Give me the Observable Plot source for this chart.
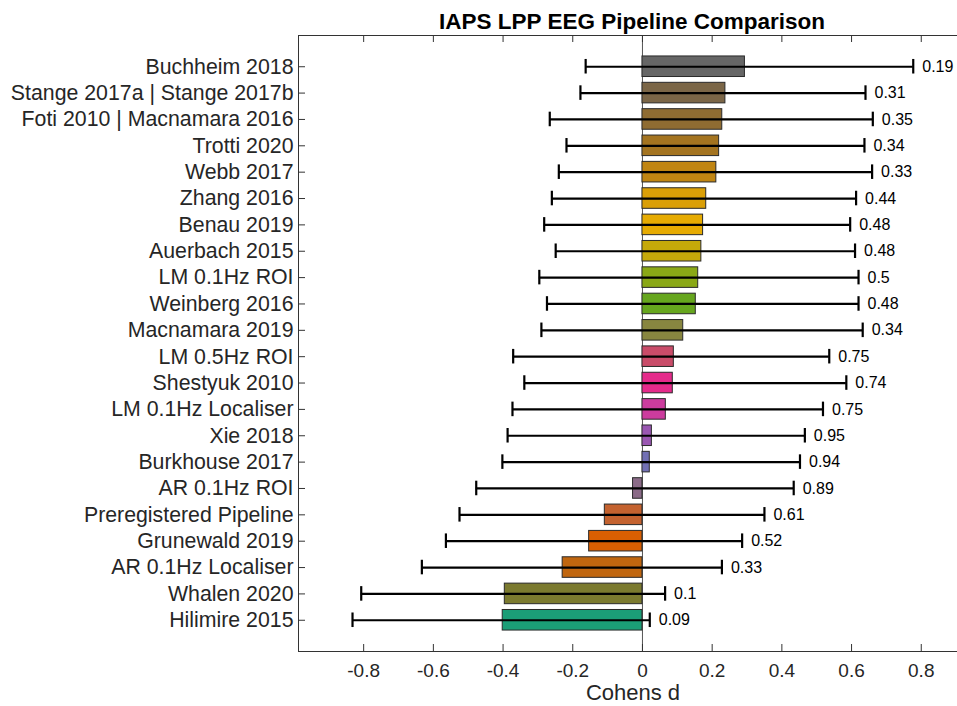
<!DOCTYPE html>
<html>
<head>
<meta charset="utf-8">
<script src="https://cdn.jsdelivr.net/npm/d3@7"></script>
<script src="https://cdn.jsdelivr.net/npm/@observablehq/plot@0.6"></script>
<style>
  html, body { margin: 0; padding: 0; background: #fff; overflow: hidden; }
  #chart { width: 957px; height: 706px; overflow: hidden; position: relative; }
  #chart svg { overflow: hidden; }
</style>
</head>
<body>
<div id="chart"></div>
<script>
const names = [
  "Buchheim 2018", "Stange 2017a | Stange 2017b", "Foti 2010 | Macnamara 2016", "Trotti 2020",
  "Webb 2017", "Zhang 2016", "Benau 2019", "Auerbach 2015", "LM 0.1Hz ROI", "Weinberg 2016",
  "Macnamara 2019", "LM 0.5Hz ROI", "Shestyuk 2010", "LM 0.1Hz Localiser", "Xie 2018",
  "Burkhouse 2017", "AR 0.1Hz ROI", "Preregistered Pipeline", "Grunewald 2019",
  "AR 0.1Hz Localiser", "Whalen 2020", "Hilimire 2015"
];
const effect = [0.294, 0.238, 0.229, 0.220, 0.212, 0.183, 0.174, 0.169, 0.160, 0.153,
  0.117, 0.090, 0.087, 0.067, 0.027, 0.021, -0.027, -0.108, -0.153, -0.229, -0.395, -0.401];
const ciLow = [-0.163, -0.178, -0.266, -0.218, -0.240, -0.260, -0.282, -0.249, -0.296, -0.274,
  -0.290, -0.371, -0.339, -0.373, -0.387, -0.402, -0.477, -0.525, -0.564, -0.633, -0.807, -0.832];
const ciHigh = [0.777, 0.640, 0.661, 0.637, 0.659, 0.613, 0.596, 0.610, 0.620, 0.620,
  0.632, 0.536, 0.585, 0.518, 0.466, 0.452, 0.434, 0.350, 0.286, 0.228, 0.065, 0.021];
const pLabels = ["0.19", "0.31", "0.35", "0.34", "0.33", "0.44", "0.48", "0.48", "0.5", "0.48",
  "0.34", "0.75", "0.74", "0.75", "0.95", "0.94", "0.89", "0.61", "0.52", "0.33", "0.1", "0.09"];
const palette = ["#666666", "#7b6647", "#8f6c32", "#a47420", "#c08512", "#da9f07", "#e6ab02",
  "#c5a90a", "#8aa816", "#66a61e", "#888640", "#c94c69", "#e52b8b", "#cc3c9e", "#9a57b2",
  "#7270b4", "#8b6b88", "#c4622f", "#d95f02", "#c0660f", "#7b7a2f", "#1b9e77"];
const xTicks = [-0.8, -0.6, -0.4, -0.2, 0, 0.2, 0.4, 0.6, 0.8];
const title = "IAPS LPP EEG Pipeline Comparison";
const xLabel = "Cohens d";

const rows = names.map((name, i) => ({name, d: effect[i], lo: ciLow[i], hi: ciHigh[i], p: pLabels[i]}));

const W = 957, H = 706, mL = 298, mR = 0, mT = 35, mB = 55;
const frameW = W - mL - mR, frameH = H - mT - mB;
const font = "'Liberation Sans', Arial, Helvetica, sans-serif";

const chart = Plot.plot({
  width: W,
  height: H,
  marginLeft: mL,
  marginRight: mR,
  marginTop: mT,
  marginBottom: mB,
  style: {fontFamily: font, background: "#fff", color: "#262626"},
  x: {domain: [-0.987, 0.904], ticks: xTicks, label: null},
  y: {domain: names, paddingInner: 0.22, paddingOuter: 0.795, round: false, label: null},
  color: {domain: names, range: palette},
  marks: [
    Plot.ruleX([0], {stroke: "#555", strokeWidth: 1}),
    Plot.barX(rows, {x: "d", y: "name", fill: "name", stroke: "#2a2a2a", strokeWidth: 1}),
    Plot.ruleY(rows, {y: "name", x1: "lo", x2: "hi", stroke: "#000", strokeWidth: 2.2}),
    Plot.tickX(rows, {x: "lo", y: "name", stroke: "#000", strokeWidth: 2.2, insetTop: 3, insetBottom: 3}),
    Plot.tickX(rows, {x: "hi", y: "name", stroke: "#000", strokeWidth: 2.2, insetTop: 3, insetBottom: 3}),
    Plot.text(rows, {x: "hi", y: "name", text: "p", dx: 9, textAnchor: "start", lineAnchor: "middle", fontSize: 16, fill: "#000"}),
    Plot.frame({stroke: "#333", strokeWidth: 1, insetRight: -6}),
    Plot.ruleX(xTicks, {x: d => d, stroke: "#333", insetBottom: frameH - 7}),
    Plot.ruleX(xTicks, {x: d => d, stroke: "#333", insetTop: frameH - 7}),
    Plot.ruleY(names, {y: d => d, stroke: "#333", insetRight: frameW - 7}),
    Plot.axisX({anchor: "bottom", ticks: xTicks, tickSize: 0, tickPadding: 12, fontSize: 19, tickFormat: d => String(d), fill: "#262626", label: null}),
    Plot.axisY({anchor: "left", tickSize: 0, tickPadding: 5, fontSize: 21.3, fill: "#262626", label: null}),
    Plot.text([title], {frameAnchor: "top", dx: 4, dy: -7, lineAnchor: "bottom", fontSize: 22.5, fontWeight: "bold", fill: "#000"}),
    Plot.text([xLabel], {frameAnchor: "bottom", dx: 5, dy: 48, lineAnchor: "bottom", fontSize: 22, fill: "#262626"})
  ]
});
document.getElementById("chart").appendChild(chart);
</script>
</body>
</html>
